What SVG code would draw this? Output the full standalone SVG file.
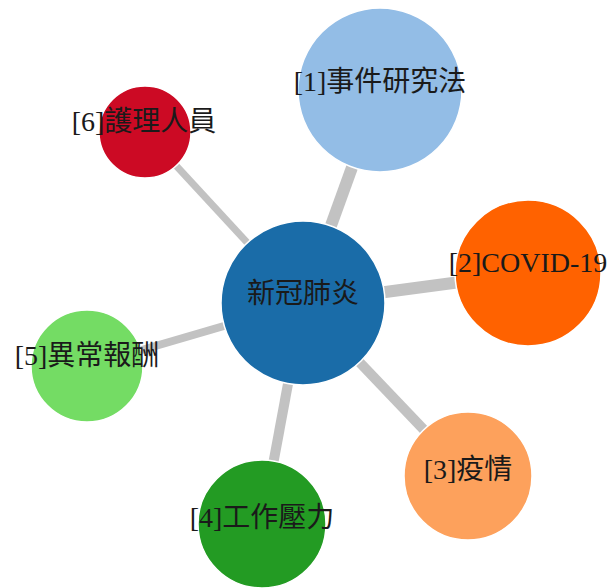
<svg xmlns="http://www.w3.org/2000/svg" width="611" height="588" viewBox="0 0 611 588">
<style>
.link{stroke:#c2c2c2;stroke-linecap:butt}
.node circle{stroke:#fff;stroke-width:1.5}
.node text{font-family:"Liberation Serif","Noto Sans CJK TC",serif;font-size:28px;fill:#1a1a1a;text-anchor:middle}
</style>
<rect width="611" height="588" fill="#fff"/>
<g id="links">
<line class="link" x1="303" y1="303" x2="380" y2="90" stroke-width="12"/>
<line class="link" x1="303" y1="303" x2="528" y2="273" stroke-width="12"/>
<line class="link" x1="303" y1="303" x2="468" y2="476" stroke-width="10"/>
<line class="link" x1="303" y1="303" x2="262" y2="524" stroke-width="10"/>
<line class="link" x1="303" y1="303" x2="87" y2="366" stroke-width="8"/>
<line class="link" x1="303" y1="303" x2="145" y2="132" stroke-width="7"/>
</g>
<g id="n0" class="node"><circle cx="303" cy="303" r="82" fill="#1a6ca8"/><text x="303" y="303">新冠肺炎</text></g>
<g id="n1" class="node"><circle cx="380" cy="90" r="82" fill="#93bde6"/><text x="380" y="91">[1]事件研究法</text></g>
<g id="n2" class="node"><circle cx="528" cy="273" r="73" fill="#ff6200"/><text x="528" y="272">[2]COVID-19</text></g>
<g id="n3" class="node"><circle cx="468" cy="476" r="64" fill="#fda15c"/><text x="468" y="479">[3]疫情</text></g>
<g id="n4" class="node"><circle cx="262" cy="524" r="64" fill="#239b23"/><text x="262" y="527">[4]工作壓力</text></g>
<g id="n5" class="node"><circle cx="87" cy="366" r="56" fill="#74dc64"/><text x="87" y="365">[5]異常報酬</text></g>
<g id="n6" class="node"><circle cx="145" cy="132" r="46" fill="#cc0a24"/><text x="144" y="131">[6]護理人員</text></g>
</svg>
